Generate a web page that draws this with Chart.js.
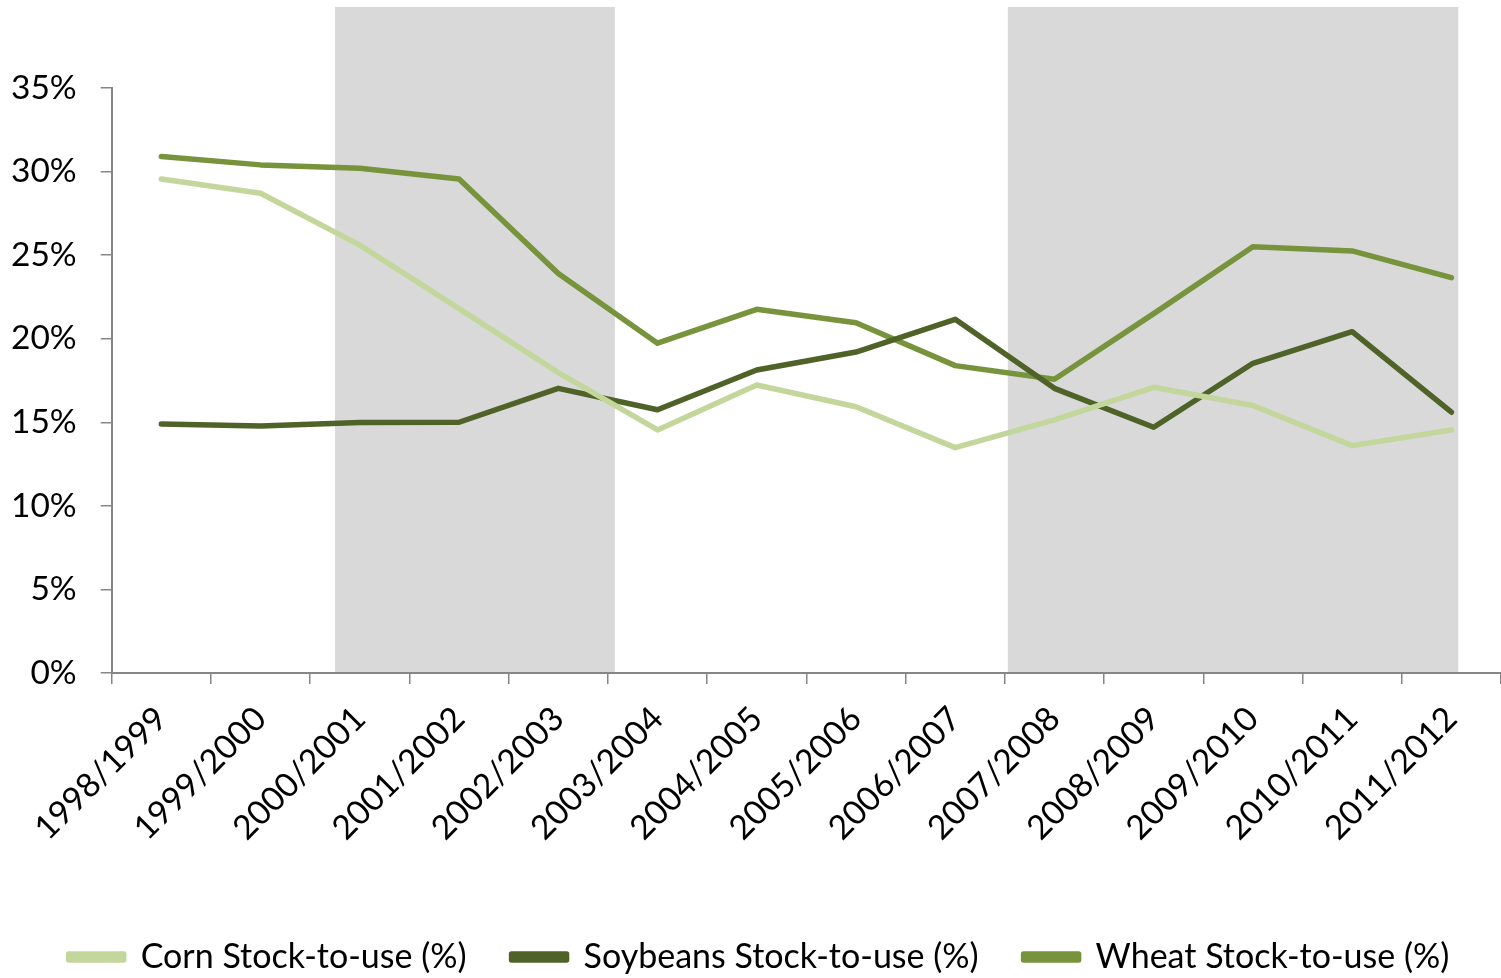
<!DOCTYPE html>
<html>
<head>
<meta charset="utf-8">
<script src="https://cdn.jsdelivr.net/npm/chart.js@4/dist/chart.umd.min.js"></script>
<style>
  html, body { margin: 0; padding: 0; background: #ffffff; }
  #wrap { width: 1501px; height: 978px; position: relative; }
</style>
</head>
<body>
<div id="wrap"><canvas id="c"></canvas></div>
<script>
const categories = ['1998/1999','1999/2000','2000/2001','2001/2002','2002/2003','2003/2004','2004/2005','2005/2006','2006/2007','2007/2008','2008/2009','2009/2010','2010/2011','2011/2012'];
const cornValues = [29.55, 28.7, 25.6, 21.8, 17.97, 14.54, 17.23, 15.93, 13.48, 15.14, 17.09, 16.0, 13.6, 14.54];
const soybeanValues = [14.9, 14.78, 14.98, 15.0, 17.03, 15.75, 18.13, 19.2, 21.16, 17.03, 14.7, 18.53, 20.42, 15.6];
const wheatValues = [30.9, 30.4, 30.2, 29.56, 23.9, 19.73, 21.76, 20.96, 18.39, 17.57, 21.5, 25.5, 25.25, 23.65];
const seriesNames = ['Corn Stock-to-use (%)', 'Soybeans Stock-to-use (%)', 'Wheat Stock-to-use (%)'];
const yTicks = [0, 5, 10, 15, 20, 25, 30, 35];
// shaded periods, in category-index units [start, end]
const shadedPeriods = [[1.75, 4.57], [8.53, 13.07]];
const shadeTopValue = 39.85;

const FONT = 'Lato, "Open Sans", sans-serif';

const shadePlugin = {
  id: 'shade',
  afterLayout(chart) {
    // nudge the legend slightly to the right, as in the reference
    if (chart.legend) { chart.legend.left += 12; chart.legend.right += 12; }
  },
  beforeDraw(chart) {
    const { ctx, scales } = chart;
    const x = scales.x, y = scales.y;
    ctx.save();
    ctx.fillStyle = '#d9d9d9';
    const yTop = y.getPixelForValue(shadeTopValue);
    const yBot = y.getPixelForValue(0);
    shadedPeriods.forEach(([a, b]) => {
      const x0 = x.getPixelForValue(a);
      const x1 = x.getPixelForValue(b);
      ctx.fillRect(x0, yTop, x1 - x0, yBot - yTop);
    });
    ctx.restore();
  }
};

const colors = ['#c3d69b', '#4f6228', '#77933c'];
const valuesList = [cornValues, soybeanValues, wheatValues];

new Chart(document.getElementById('c'), {
  type: 'line',
  data: {
    labels: categories,
    datasets: valuesList.map((vals, i) => ({
      label: seriesNames[i],
      data: vals,
      borderColor: colors[i],
      backgroundColor: colors[i],
      borderWidth: 5.5,
      pointRadius: 0,
      pointHoverRadius: 0,
      tension: 0,
      fill: false,
      borderCapStyle: 'round',
      borderJoinStyle: 'round'
    }))
  },
  options: {
    responsive: true,
    maintainAspectRatio: false,
    animation: false,
    layout: { padding: { top: 88, left: -13, right: -6, bottom: -6 } },
    plugins: {
      tooltip: { enabled: false },
      legend: {
        display: true,
        position: 'bottom',
        labels: {
          font: { family: FONT, size: 34 },
          color: '#000000',
          boxWidth: 55,
          boxHeight: 6,
          padding: 45
        }
      }
    },
    scales: {
      x: {
        type: 'category',
        offset: true,
        afterFit(scale) { scale.paddingLeft = 0; scale.paddingRight = 0; scale.height += 32; },
        grid: {
          display: true,
          offset: true,
          drawOnChartArea: false,
          drawTicks: true,
          tickLength: 11,
          color: '#868686',
          lineWidth: 1.5
        },
        border: { display: true, color: '#868686', width: 2 },
        ticks: {
          font: { family: FONT, size: 33.5 },
          color: '#000000',
          minRotation: 45,
          maxRotation: 45,
          autoSkip: false,
          padding: 15
        }
      },
      y: {
        min: 0,
        max: 35,
        afterBuildTicks(scale) { scale.ticks = yTicks.map(v => ({ value: v })); },
        grid: {
          display: true,
          drawOnChartArea: false,
          drawTicks: true,
          tickLength: 11,
          color: '#868686',
          lineWidth: 1.5
        },
        border: { display: true, color: '#868686', width: 2 },
        ticks: {
          font: { family: FONT, size: 33.5 },
          color: '#000000',
          padding: 24,
          callback: (v) => v + '%'
        }
      }
    }
  },
  plugins: [shadePlugin]
});
</script>
</body>
</html>
